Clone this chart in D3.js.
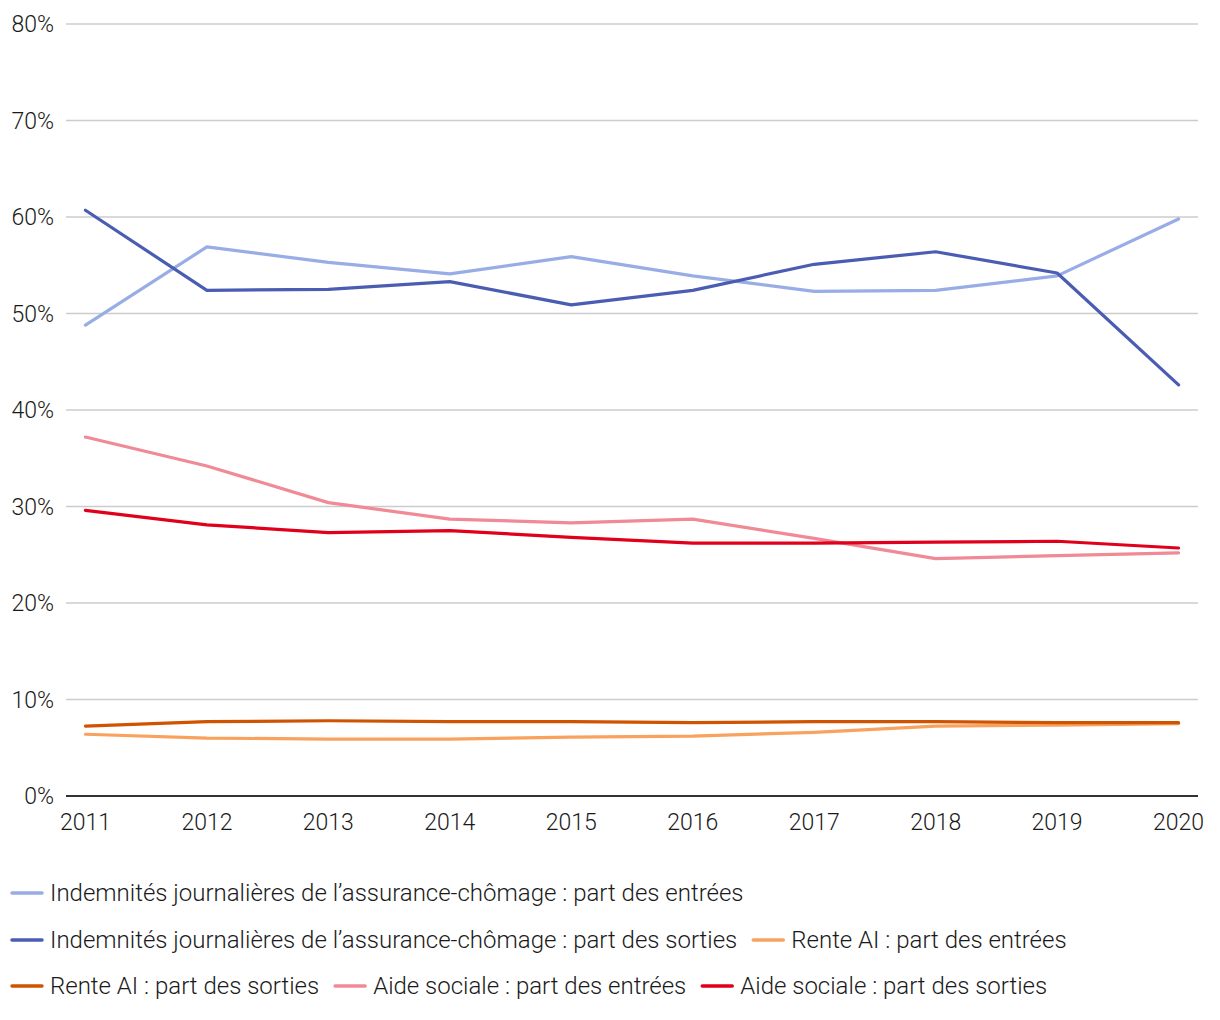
<!DOCTYPE html>
<html><head><meta charset="utf-8">
<script src="https://cdn.jsdelivr.net/npm/d3@7"></script>
<style>
body{margin:0;background:#fff;}
svg text{font-family:Roboto,"Noto Sans",sans-serif;font-weight:300;fill:#1a1a1a;}
</style></head>
<body><svg id="c" width="1220" height="1020"></svg>
<script>
const years = [2011,2012,2013,2014,2015,2016,2017,2018,2019,2020];
const yTicks = [0,10,20,30,40,50,60,70,80];
const seriesNames = [
  "Indemnités journalières de l’assurance-chômage : part des entrées",
  "Indemnités journalières de l’assurance-chômage : part des sorties",
  "Rente AI : part des entrées",
  "Rente AI : part des sorties",
  "Aide sociale : part des entrées",
  "Aide sociale : part des sorties"
];
const uiEntrees = [48.8,56.9,55.3,54.1,55.9,53.9,52.3,52.4,53.9,59.8];
const uiSorties = [60.7,52.4,52.5,53.3,50.9,52.4,55.1,56.4,54.2,42.6];
const aiEntrees = [6.4,6.0,5.9,5.9,6.1,6.2,6.6,7.25,7.35,7.5];
const aiSorties = [7.25,7.7,7.8,7.7,7.7,7.6,7.7,7.7,7.6,7.6];
const asEntrees = [37.2,34.2,30.4,28.7,28.3,28.7,26.7,24.6,24.9,25.2];
const asSorties = [29.6,28.1,27.3,27.5,26.8,26.2,26.2,26.3,26.4,25.7];
const colors = ["#98ADE6","#4A5DB2","#F9A25E","#CF5300","#EF8A96","#E0001B"];
const allValues = [uiEntrees,uiSorties,aiEntrees,aiSorties,asEntrees,asSorties];

(function(){
const svg = d3.select("#c");
const L = 66, R = 1198, T = 24, B = 796;
const x = d3.scalePoint().domain(years).range([L, R]).padding(0.16);
const y = d3.scaleLinear().domain([0,80]).range([B, T]);

svg.append("g").selectAll("line").data(yTicks.filter(d=>d>0)).join("line")
  .attr("x1", L).attr("x2", R)
  .attr("y1", d=>y(d)).attr("y2", d=>y(d))
  .attr("stroke","#cccccc").attr("stroke-width",1.5);

svg.append("g").selectAll("text").data(yTicks).join("text")
  .attr("x", 54).attr("y", d=>y(d)).attr("dy","0.35em")
  .attr("text-anchor","end").attr("font-size",23).text(d=>d+"%");

svg.append("line").attr("x1",L).attr("x2",R).attr("y1",y(0)).attr("y2",y(0))
  .attr("stroke","#333").attr("stroke-width",2);

svg.append("g").selectAll("text").data(years).join("text")
  .attr("x", d=>x(d)).attr("y", 822).attr("dy","0.35em")
  .attr("text-anchor","middle").attr("font-size",23).text(d=>d);

const line = d3.line().x((d,i)=>x(years[i])).y(d=>y(d));
svg.append("g").selectAll("path").data(allValues).join("path")
  .attr("d", d=>line(d)).attr("fill","none")
  .attr("stroke",(d,i)=>colors[i]).attr("stroke-width",3.2)
  .attr("stroke-linejoin","round").attr("stroke-linecap","round");

const lg = svg.append("g");
let lx = 12, row = 0;
const rowY = [893, 940, 986];
const maxW = 1210;
seriesNames.forEach((name,i)=>{
  const g = lg.append("g");
  g.append("line").attr("x1",0).attr("x2",30).attr("y1",0).attr("y2",0)
    .attr("stroke",colors[i]).attr("stroke-width",3.5).attr("stroke-linecap","round");
  const t = g.append("text").attr("x",38).attr("y",0).attr("dy","0.35em")
    .attr("font-size",24).text(name);
  const w = 38 + t.node().getComputedTextLength();
  if (lx + w > maxW && lx > 12) { lx = 12; row++; }
  g.attr("transform",`translate(${lx},${rowY[row]})`);
  lx += w + 16;
});
})();
</script></body></html>
